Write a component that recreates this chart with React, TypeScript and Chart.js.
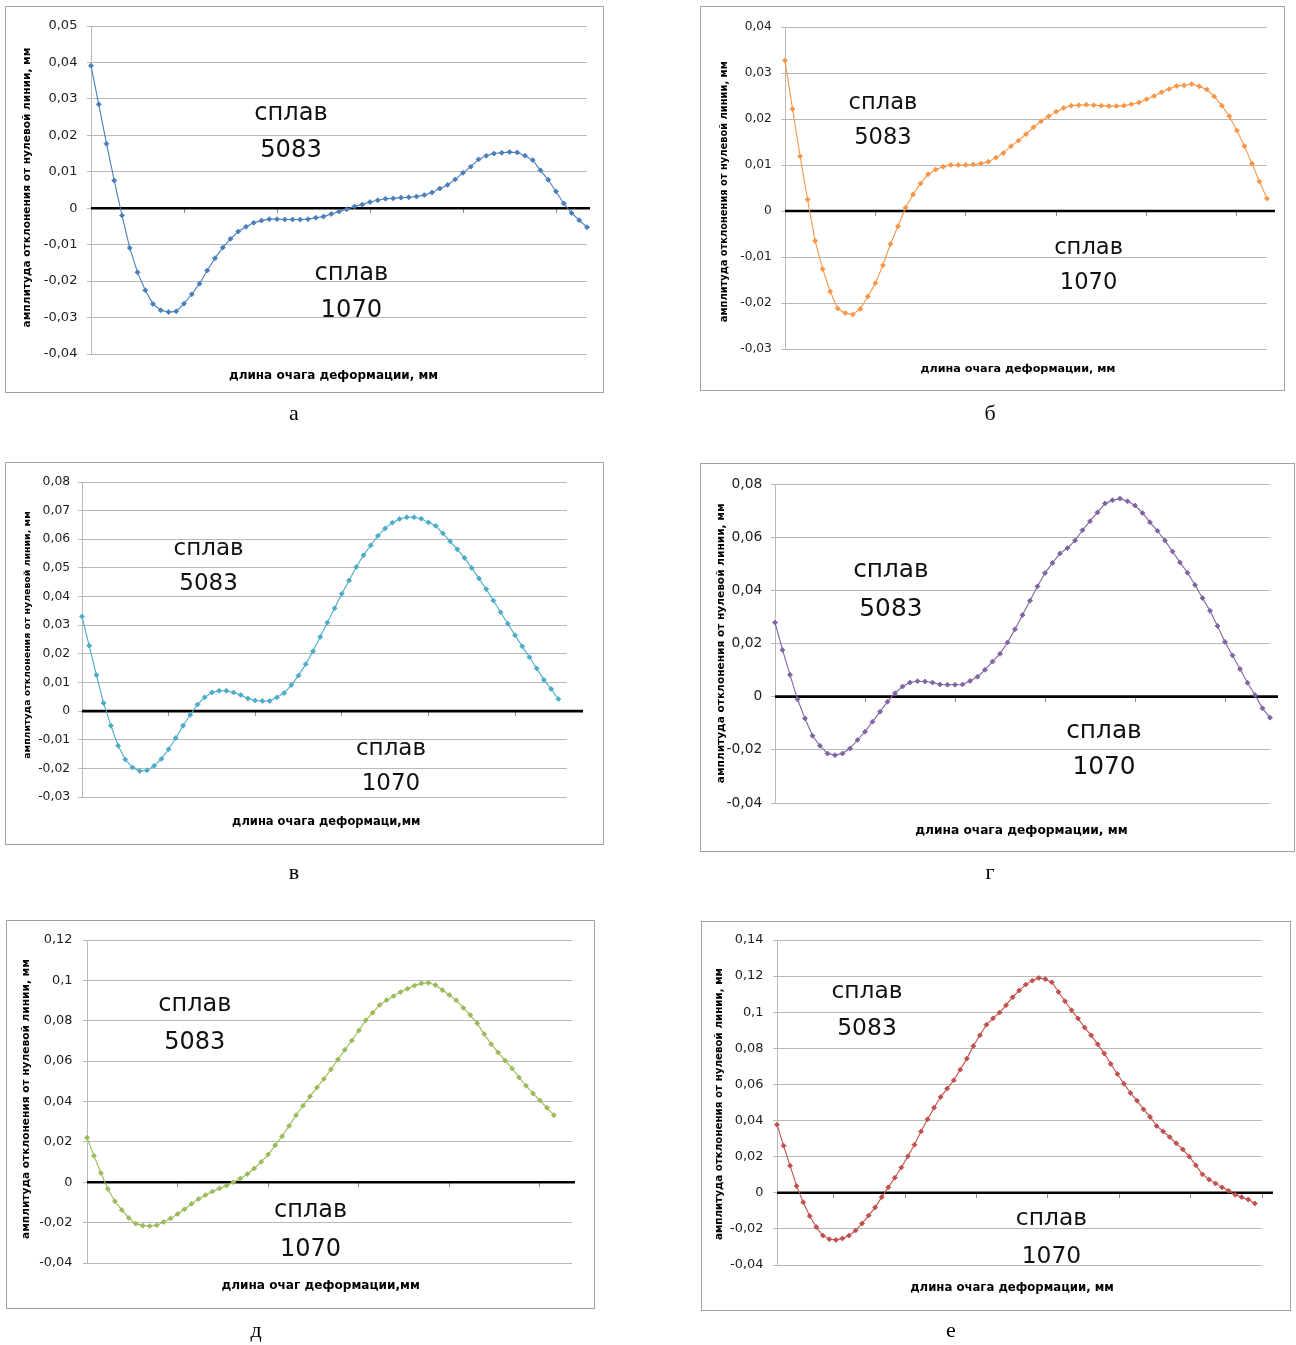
import React, { useEffect, useRef } from 'react';
import { Chart, registerables } from 'chart.js';
Chart.register(...registerables);

// ---------- data ----------
const seriesA = [0.0391, 0.0285, 0.0177, 0.0076, -0.002, -0.0109, -0.0176, -0.0225, -0.0263, -0.028, -0.0285, -0.0283, -0.0262, -0.0236, -0.0207, -0.0171, -0.0137, -0.0108, -0.0084, -0.0064, -0.0051, -0.004, -0.0034, -0.003, -0.003, -0.0031, -0.0031, -0.0031, -0.003, -0.0026, -0.0023, -0.0016, -0.0009, -0.0003, 0.0005, 0.001, 0.0017, 0.0022, 0.0026, 0.0027, 0.0029, 0.003, 0.0032, 0.0036, 0.0043, 0.0054, 0.0064, 0.0079, 0.0097, 0.0114, 0.0134, 0.0144, 0.015, 0.0152, 0.0154, 0.0153, 0.0144, 0.0132, 0.0104, 0.0078, 0.0046, 0.0013, -0.0013, -0.0033, -0.0052];
const seriesB = [0.0327, 0.0222, 0.0119, 0.0025, -0.0065, -0.0126, -0.0175, -0.0212, -0.0222, -0.0225, -0.0213, -0.0186, -0.0157, -0.0118, -0.0072, -0.0033, 0.0007, 0.0036, 0.006, 0.008, 0.009, 0.0096, 0.01, 0.01, 0.01, 0.0101, 0.0103, 0.0107, 0.0116, 0.0126, 0.0141, 0.0153, 0.0167, 0.0182, 0.0195, 0.0206, 0.0216, 0.0224, 0.0229, 0.023, 0.0231, 0.023, 0.0229, 0.0228, 0.0228, 0.0229, 0.0232, 0.0236, 0.0243, 0.025, 0.0258, 0.0265, 0.0272, 0.0273, 0.0276, 0.0271, 0.0264, 0.0249, 0.0229, 0.0206, 0.0175, 0.0141, 0.0103, 0.0064, 0.0027];
const seriesV = [0.033, 0.0228, 0.0126, 0.0028, -0.0051, -0.0121, -0.0169, -0.0197, -0.0209, -0.0207, -0.0191, -0.0167, -0.0133, -0.0094, -0.0051, -0.0013, 0.0023, 0.0048, 0.0065, 0.0071, 0.0071, 0.0065, 0.0056, 0.0044, 0.0037, 0.0035, 0.0035, 0.0048, 0.0063, 0.0091, 0.0124, 0.0164, 0.0209, 0.0259, 0.0309, 0.0359, 0.041, 0.0456, 0.0503, 0.0544, 0.0579, 0.0612, 0.0638, 0.0658, 0.0671, 0.0677, 0.0677, 0.0672, 0.0659, 0.0647, 0.0621, 0.0593, 0.0565, 0.0535, 0.05, 0.0463, 0.0426, 0.0386, 0.0345, 0.0305, 0.0265, 0.0226, 0.0188, 0.0149, 0.0109, 0.0077, 0.0042];
const seriesG = [0.0279, 0.0176, 0.0082, -0.001, -0.0082, -0.0147, -0.0185, -0.0214, -0.022, -0.0214, -0.0195, -0.0163, -0.0132, -0.0094, -0.0057, -0.0019, 0.0013, 0.0038, 0.0053, 0.0058, 0.0057, 0.0053, 0.0046, 0.0045, 0.0045, 0.0046, 0.0059, 0.0075, 0.0101, 0.0132, 0.0161, 0.0204, 0.0254, 0.0307, 0.0361, 0.0415, 0.0465, 0.0503, 0.0539, 0.0559, 0.0587, 0.0626, 0.066, 0.0693, 0.0727, 0.0739, 0.0745, 0.0735, 0.0719, 0.0691, 0.0656, 0.0624, 0.0587, 0.0546, 0.0505, 0.0466, 0.042, 0.0371, 0.0323, 0.0266, 0.0206, 0.0155, 0.0104, 0.0052, 0.0006, -0.0044, -0.0079];
const seriesD = [0.0221, 0.0131, 0.0046, -0.0033, -0.0094, -0.0137, -0.0177, -0.0205, -0.0215, -0.0217, -0.0213, -0.0197, -0.0179, -0.0157, -0.0134, -0.0107, -0.0083, -0.0064, -0.0046, -0.0031, -0.0017, 0.0, 0.0018, 0.0041, 0.0068, 0.0101, 0.0137, 0.0183, 0.0228, 0.0279, 0.0332, 0.0379, 0.0425, 0.0469, 0.0512, 0.0559, 0.0608, 0.0656, 0.0702, 0.0752, 0.0802, 0.084, 0.0878, 0.0902, 0.0922, 0.0942, 0.0959, 0.0974, 0.0985, 0.0988, 0.0977, 0.0952, 0.0927, 0.0901, 0.0864, 0.0828, 0.0787, 0.0734, 0.0684, 0.0643, 0.0603, 0.0564, 0.0519, 0.0478, 0.044, 0.0405, 0.0369, 0.0332];
const seriesE = [0.0377, 0.0261, 0.015, 0.0037, -0.0052, -0.0129, -0.019, -0.0237, -0.0257, -0.0261, -0.0253, -0.0237, -0.0209, -0.017, -0.0126, -0.0081, -0.0024, 0.003, 0.0083, 0.014, 0.0203, 0.0266, 0.034, 0.0407, 0.0471, 0.053, 0.0577, 0.0623, 0.0682, 0.0743, 0.0813, 0.0872, 0.0931, 0.0966, 0.0998, 0.1039, 0.1083, 0.112, 0.1153, 0.1175, 0.119, 0.1183, 0.1166, 0.1112, 0.1061, 0.1011, 0.0965, 0.0915, 0.0872, 0.0822, 0.0772, 0.0713, 0.0658, 0.0604, 0.0553, 0.051, 0.0462, 0.042, 0.037, 0.034, 0.0309, 0.0274, 0.024, 0.02, 0.0152, 0.0102, 0.0074, 0.0052, 0.003, 0.0011, -0.0011, -0.0024, -0.0037, -0.0059];

// x-axis tick mark positions (category index) and axis extent
const xTicksA = [12, 24, 36, 48, 60];
const xTicksB = [12, 24, 36, 48, 60];
const xTicksV = [12, 24, 36, 48, 60];
const xTicksG = [12, 24, 36, 48, 60];
const xTicksD = [13, 26, 39, 52, 65];
const xTicksE = [8.7, 19.6, 30.5, 41.4, 52.3, 63.2, 74.1];

// y-axis ranges [min, max, step]
const yRangeA = [-0.04, 0.05, 0.01];
const yRangeB = [-0.03, 0.04, 0.01];
const yRangeV = [-0.03, 0.08, 0.01];
const yRangeG = [-0.04, 0.08, 0.02];
const yRangeD = [-0.04, 0.12, 0.02];
const yRangeE = [-0.04, 0.14, 0.02];

// texts
const yTitle = 'амплитуда отклонения от нулевой линии, мм';
const xTitleA = 'длина очага деформации, мм';
const xTitleB = 'длина очага деформации, мм';
const xTitleV = 'длина очага деформаци,мм';
const xTitleG = 'длина очага деформации, мм';
const xTitleD = 'длина очаг деформации,мм';
const xTitleE = 'длина очага деформации, мм';
const alloyWord = 'сплав';
const alloyTop = '5083';
const alloyBottom = '1070';
const panelLetters = ['а', 'б', 'в', 'г', 'д', 'е'];

// ---------- layout / style ----------
const SANS = '"DejaVu Sans", "Noto Sans", sans-serif';
const SERIF = '"Liberation Serif", "DejaVu Serif", serif';
const GRID = '#b9b9b9';

type Rect = { l: number; t: number; r: number; b: number };
interface PanelCfg {
  values: number[];
  xTicks: number[];
  xMax: number;
  yRange: number[];
  color: string;
  box: Rect;
  plot: Rect;
  zeroEnd: number;
  tickFont: number;
  labelGap: number;
  yTitleX: number;
  yTitleY: number;
  yTitleSize: number;
  xTitle: string;
  xTitleX: number;
  xTitleY: number;
  xTitleSize: number;
  annSize: number;
  ann: number[]; // x1, yWord1, yNum1, x2, yWord2, yNum2 (baselines)
  letter: string;
  letterX: number;
  letterY: number;
}

const panels: PanelCfg[] = [
  {
    values: seriesA, xTicks: xTicksA, xMax: 64, yRange: yRangeA, color: '#4A7EBB',
    box: { l: 5, t: 6, r: 604, b: 393 }, plot: { l: 91, t: 26, r: 587, b: 354 }, zeroEnd: 590,
    tickFont: 13, labelGap: 13.6,
    yTitleX: 26.7, yTitleY: 187.5, yTitleSize: 10.6,
    xTitle: xTitleA, xTitleX: 333.5, xTitleY: 375, xTitleSize: 12.0,
    annSize: 24.2, ann: [291, 120, 157.3, 351.4, 280, 317.3],
    letter: panelLetters[0], letterX: 294, letterY: 420,
  },
  {
    values: seriesB, xTicks: xTicksB, xMax: 64, yRange: yRangeB, color: '#F79646',
    box: { l: 700, t: 6, r: 1285, b: 391 }, plot: { l: 785, t: 27, r: 1267, b: 349 }, zeroEnd: 1275,
    tickFont: 12.2, labelGap: 13.2,
    yTitleX: 723.8, yTitleY: 191.7, yTitleSize: 9.9,
    xTitle: xTitleB, xTitleX: 1018, xTitleY: 368, xTitleSize: 11.2,
    annSize: 22.6, ann: [883, 108.7, 144.3, 1088.6, 253.7, 289.3],
    letter: panelLetters[1], letterX: 990, letterY: 420,
  },
  {
    values: seriesV, xTicks: xTicksV, xMax: 67.2, yRange: yRangeV, color: '#4BACC6',
    box: { l: 5, t: 462, r: 604, b: 845 }, plot: { l: 82, t: 482, r: 567, b: 797 }, zeroEnd: 583,
    tickFont: 12.4, labelGap: 11.8,
    yTitleX: 27.3, yTitleY: 635, yTitleSize: 9.4,
    xTitle: xTitleV, xTitleX: 326.3, xTitleY: 821.7, xTitleSize: 11.5,
    annSize: 23, ann: [208.6, 555.3, 590.3, 391, 755.3, 790.3],
    letter: panelLetters[2], letterX: 294, letterY: 879,
  },
  {
    values: seriesG, xTicks: xTicksG, xMax: 66, yRange: yRangeG, color: '#8064A2',
    box: { l: 700, t: 463, r: 1295, b: 852 }, plot: { l: 775, t: 484, r: 1270, b: 803 }, zeroEnd: 1278,
    tickFont: 13.8, labelGap: 12.8,
    yTitleX: 721, yTitleY: 643.3, yTitleSize: 10.6,
    xTitle: xTitleG, xTitleX: 1021.4, xTitleY: 830, xTitleSize: 12.2,
    annSize: 24.8, ann: [890.9, 577, 616, 1104, 738, 774.3],
    letter: panelLetters[3], letterX: 990, letterY: 879,
  },
  {
    values: seriesD, xTicks: xTicksD, xMax: 69.6, yRange: yRangeD, color: '#9BBB59',
    box: { l: 6, t: 920, r: 595, b: 1309 }, plot: { l: 87, t: 940, r: 572, b: 1263 }, zeroEnd: 575,
    tickFont: 12.9, labelGap: 14.5,
    yTitleX: 26, yTitleY: 1099, yTitleSize: 10.6,
    xTitle: xTitleD, xTitleX: 320.6, xTitleY: 1285, xTitleSize: 12.1,
    annSize: 24, ann: [194.8, 1011.3, 1049.3, 310.6, 1217, 1256],
    letter: panelLetters[4], letterX: 256, letterY: 1337,
  },
  {
    values: seriesE, xTicks: xTicksE, xMax: 74.1, yRange: yRangeE, color: '#C0504D',
    box: { l: 701, t: 921, r: 1291, b: 1311 }, plot: { l: 777, t: 940, r: 1262, b: 1265 }, zeroEnd: 1273,
    tickFont: 12.9, labelGap: 13.6,
    yTitleX: 718.8, yTitleY: 1104, yTitleSize: 10.3,
    xTitle: xTitleE, xTitleX: 1012, xTitleY: 1287.7, xTitleSize: 11.7,
    annSize: 23.4, ann: [867, 998, 1035.3, 1051.4, 1225.3, 1262.6],
    letter: panelLetters[5], letterX: 951, letterY: 1337,
  },
];

const fmt = (v: number) => {
  const r = Math.round(v * 100) / 100;
  if (r === 0) return '0';
  return String(r).replace('.', ',');
};

const zeroLinePlugin = {
  id: 'zeroLine',
  beforeDatasetsDraw(chart: any, _args: any, opts: any) {
    const y = chart.scales.y.getPixelForValue(0);
    const { left, right } = chart.chartArea;
    const ctx = chart.ctx;
    ctx.save();
    ctx.strokeStyle = '#000';
    ctx.lineWidth = 2.6;
    ctx.beginPath();
    ctx.moveTo(left, y);
    ctx.lineTo(right + (opts.extend || 0), y);
    ctx.stroke();
    ctx.restore();
  },
};

function ChartPanel({ cfg }: { cfg: PanelCfg }) {
  const ref = useRef<HTMLCanvasElement>(null);
  const { box, plot } = cfg;
  const w = box.r - box.l;
  const h = box.b - box.t;
  useEffect(() => {
    const [yMin, yMax, yStep] = cfg.yRange;
    const chart = new Chart(ref.current as HTMLCanvasElement, {
      type: 'line',
      data: {
        datasets: [
          {
            data: cfg.values.map((v, i) => ({ x: i, y: v })),
            borderColor: cfg.color,
            backgroundColor: cfg.color,
            borderWidth: 1.1,
            pointStyle: 'rectRot',
            pointRadius: 2.5,
            pointBorderWidth: 0.8,
            pointBackgroundColor: cfg.color,
            pointBorderColor: cfg.color,
            tension: 0,
            clip: false,
          } as any,
        ],
      },
      options: {
        responsive: false,
        animation: false,
        devicePixelRatio: 1,
        events: [],
        layout: {
          padding: { left: 0, top: plot.t - box.t, right: box.r - plot.r, bottom: box.b - plot.b },
        },
        plugins: {
          legend: { display: false },
          tooltip: { enabled: false },
          zeroLine: { extend: cfg.zeroEnd - plot.r },
        } as any,
        scales: {
          x: {
            type: 'linear',
            position: { y: 0 } as any,
            min: 0,
            max: cfg.xMax,
            afterBuildTicks: (s: any) => {
              s.ticks = cfg.xTicks.map((v) => ({ value: v }));
            },
            afterFit: (s: any) => {
              s.height = 0;
            },
            ticks: { display: false },
            grid: { drawOnChartArea: false, drawTicks: true, tickLength: 5, color: '#8a8a8a', lineWidth: 1 },
            border: { display: false },
          },
          y: {
            type: 'linear',
            min: yMin,
            max: yMax,
            afterFit: (s: any) => {
              s.width = plot.l - box.l;
            },
            ticks: {
              stepSize: yStep,
              callback: (v: any) => fmt(Number(v)),
              font: { family: SANS, size: cfg.tickFont },
              color: '#1e1e1e',
              padding: cfg.labelGap - 4,
            },
            grid: { color: GRID, lineWidth: 1, drawTicks: true, tickLength: 4 },
            border: { display: true, color: GRID, width: 1 },
          },
        },
      } as any,
      plugins: [zeroLinePlugin as any],
    });
    return () => chart.destroy();
  }, [cfg]);
  return (
    <>
      <canvas
        ref={ref}
        width={w}
        height={h}
        style={{ position: 'absolute', left: box.l, top: box.t, width: w, height: h }}
      />
      <div
        style={{
          position: 'absolute',
          left: box.l,
          top: box.t,
          width: w,
          height: h,
          boxSizing: 'border-box',
          border: '1px solid #a3a3a3',
          pointerEvents: 'none',
        }}
      />
    </>
  );
}

export default function App() {
  return (
    <div style={{ position: 'absolute', left: 0, top: 0, width: 1296, height: 1345, background: '#fff', overflow: 'hidden' }}>
      {panels.map((p, i) => (
        <ChartPanel key={i} cfg={p} />
      ))}
      <svg width={1296} height={1345} style={{ position: 'absolute', left: 0, top: 0, pointerEvents: 'none' }}>
        {panels.map((p, i) => (
          <g key={i}>
            <text
              transform={`translate(${p.yTitleX + 0.32 * p.yTitleSize},${p.yTitleY}) rotate(-90)`}
              textAnchor="middle"
              fontFamily={SANS}
              fontWeight="bold"
              fontSize={p.yTitleSize}
              fill="#000"
            >
              {yTitle}
            </text>
            <text
              x={p.xTitleX}
              y={p.xTitleY + 0.32 * p.xTitleSize}
              textAnchor="middle"
              fontFamily={SANS}
              fontWeight="bold"
              fontSize={p.xTitleSize}
              fill="#000"
            >
              {p.xTitle}
            </text>
            <text x={p.ann[0]} y={p.ann[1]} textAnchor="middle" fontFamily={SANS} fontSize={p.annSize} fill="#111">
              {alloyWord}
            </text>
            <text x={p.ann[0]} y={p.ann[2]} textAnchor="middle" fontFamily={SANS} fontSize={p.annSize} fill="#111">
              {alloyTop}
            </text>
            <text x={p.ann[3]} y={p.ann[4]} textAnchor="middle" fontFamily={SANS} fontSize={p.annSize} fill="#111">
              {alloyWord}
            </text>
            <text x={p.ann[3]} y={p.ann[5]} textAnchor="middle" fontFamily={SANS} fontSize={p.annSize} fill="#111">
              {alloyBottom}
            </text>
            <text x={p.letterX} y={p.letterY} textAnchor="middle" fontFamily={SERIF} fontSize={22} fill="#000">
              {p.letter}
            </text>
          </g>
        ))}
      </svg>
    </div>
  );
}
